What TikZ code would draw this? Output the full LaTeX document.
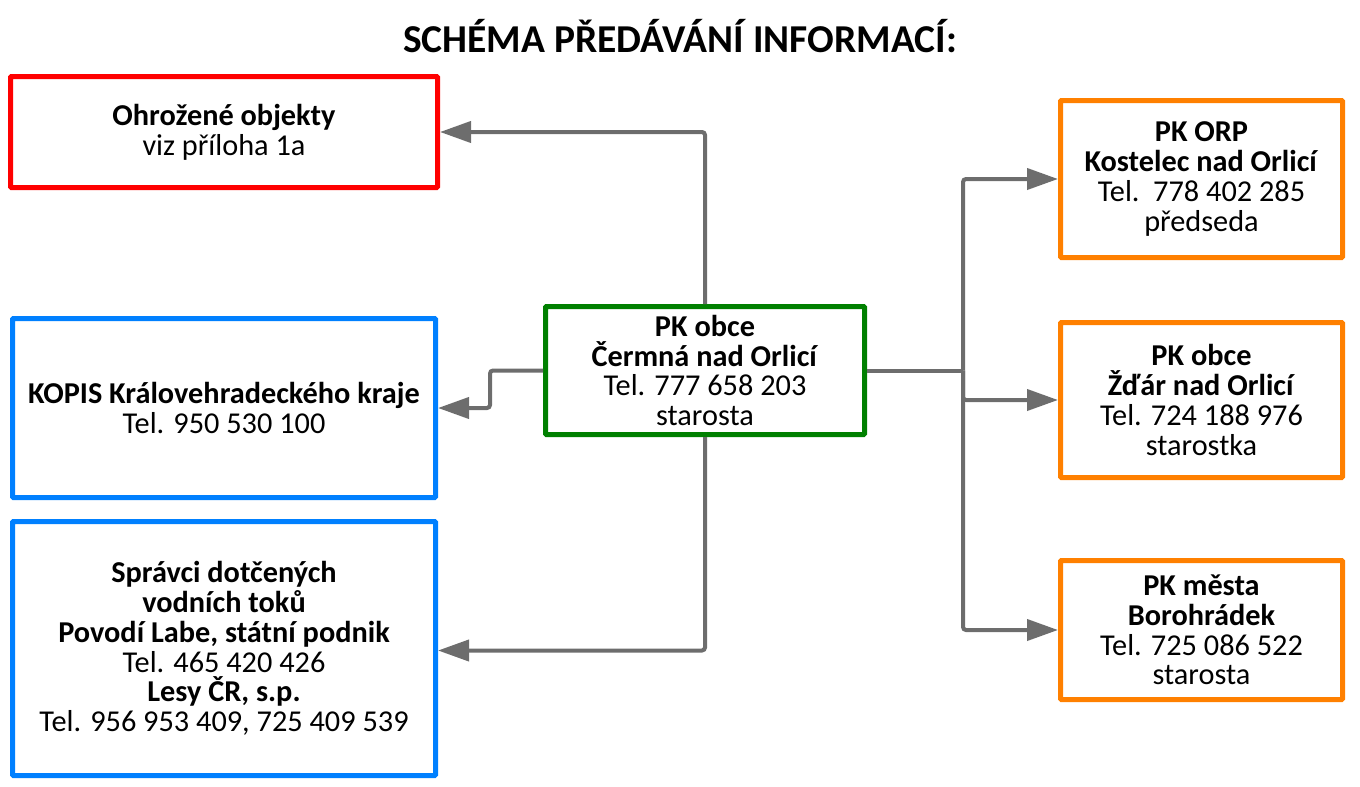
\documentclass[tikz,border=0pt]{standalone}
\usepackage{fontspec}
\setmainfont{Carlito}
\usepackage{tikz}
\usetikzlibrary{arrows.meta}
\usetikzlibrary{calc}
\definecolor{linkgray}{HTML}{6D6D6D}
\definecolor{boxred}{HTML}{FF0000}
\definecolor{boxblue}{HTML}{0080FF}
\definecolor{boxgreen}{HTML}{008000}
\definecolor{boxorange}{HTML}{FF8000}
\tikzset{
    box/.style={draw, line width=5pt, rounded corners=1pt, align=center, inner sep=0pt,
        font=\fontsize{30.3}{29.8}\selectfont},
    link/.style={draw=linkgray, line width=4pt, rounded corners=3pt,
        -{Triangle[length=31pt, width=21pt]}},
}

\begin{document}
\begin{tikzpicture}[x=1pt, y=-1pt]
    \useasboundingbox (0, 0) rectangle (1360, 787);
    \node[font=\fontsize{39.5}{39.5}\selectfont\bfseries] (title) at (680, 36) {SCHÉMA PŘEDÁVÁNÍ INFORMACÍ:};
    % left column
    \node[box, draw=boxred, minimum width=427pt, minimum height=111pt] (ohr) at (224, 132)
        {\textbf{Ohrožené objekty}\\viz příloha 1a};
    \node[box, draw=boxblue, minimum width=423pt, minimum height=179pt] (kopis) at (224, 408)
        {\textbf{KOPIS Královehradeckého kraje}\\Tel. 950 530 100};
    \node[box, draw=boxblue, minimum width=423pt, minimum height=254pt] (spr) at (224, 648.5)
        {\textbf{Správci dotčených}\\\textbf{vodních toků}\\\textbf{Povodí Labe, státní podnik}\\
         Tel. 465 420 426\\\textbf{Lesy ČR, s.p.}\\Tel. 956 953 409, 725 409 539};
    % centre
    \node[box, draw=boxgreen, minimum width=319pt, minimum height=128pt] (pk) at (705, 370.5)
        {\textbf{PK obce}\\\textbf{Čermná nad Orlicí}\\Tel. 777 658 203\\starosta};
    % right column
    \node[box, draw=boxorange, minimum width=282pt, minimum height=157pt] (orp) at (1201.5, 179)
        {\textbf{PK ORP}\\\textbf{Kostelec nad Orlicí}\\Tel.\ \ 778 402 285\\předseda};
    \node[box, draw=boxorange, minimum width=282pt, minimum height=155pt] (zdar) at (1201.5, 400)
        {\textbf{PK obce}\\\textbf{Žďár nad Orlicí}\\Tel. 724 188 976\\starostka};
    \node[box, draw=boxorange, minimum width=282pt, minimum height=139pt] (boro) at (1201.5, 630)
        {\textbf{PK města}\\\textbf{Borohrádek}\\Tel. 725 086 522\\starosta};
    % connectors
    \coordinate (split) at ($(pk.east)+(96, 0)$);
    \draw[link] (pk.north) |- (ohr.east);
    \draw[link] (pk.west) -- ++(-53, 0) |- (kopis.east);
    \draw[link] (pk.south) |- ($(spr.east)+(0, 2)$);
    \draw[link, -] (pk.east) -- (split);
    \draw[link] (split) |- (orp.west);
    \draw[link] (split) |- (zdar.west);
    \draw[link] (split) |- (boro.west);
\end{tikzpicture}
\end{document}
